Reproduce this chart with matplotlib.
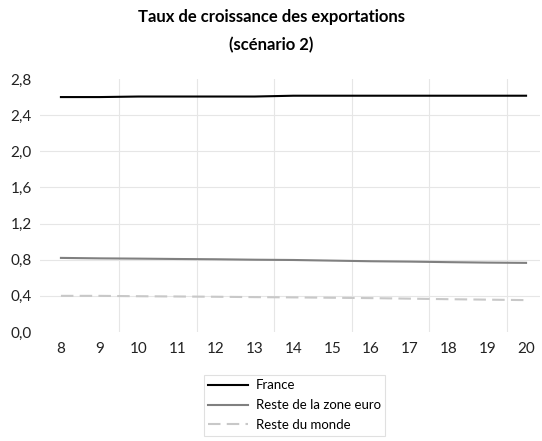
import matplotlib
matplotlib.use("Agg")
import matplotlib.pyplot as plt
import numpy as np

plt.rcParams['font.family'] = ['Lato', 'DejaVu Sans']

years = [8, 9, 10, 11, 12, 13, 14, 15, 16, 17, 18, 19, 20]
france = [2.600, 2.600, 2.606, 2.606, 2.606, 2.606, 2.615, 2.615, 2.615, 2.615, 2.615, 2.615, 2.615]
zone_euro = [0.820, 0.815, 0.812, 0.808, 0.805, 0.800, 0.797, 0.790, 0.783, 0.779, 0.773, 0.768, 0.765]
monde = [0.400, 0.400, 0.396, 0.393, 0.390, 0.386, 0.383, 0.379, 0.375, 0.369, 0.363, 0.358, 0.353]
yticks = [0.0, 0.4, 0.8, 1.2, 1.6, 2.0, 2.4, 2.8]
ytick_labels = ["0,0", "0,4", "0,8", "1,2", "1,6", "2,0", "2,4", "2,8"]
vgrid = [9.5, 11.5, 13.5, 15.5, 17.5, 19.5]

fig = plt.figure(figsize=(5.42, 4.41), dpi=100)
ax = fig.add_axes([40/542, 1-332/441, 500/542, (332-79)/441])

for y in yticks[1:-1]:
    ax.axhline(y, color='#e6e6e6', lw=0.8, zorder=0)
for x in vgrid:
    ax.axvline(x, color='#e6e6e6', lw=0.8, zorder=0)

ax.plot(years, france, color='#000000', lw=1.5, label='France')
ax.plot(years, zone_euro, color='#808080', lw=1.5, label='Reste de la zone euro')
ax.plot(years, monde, color='#c8c8c8', lw=1.5, dashes=(6, 3), label='Reste du monde')

ax.set_xlim(7.46, 20.36)
ax.set_ylim(0, 2.8)
ax.set_yticks(yticks)
ax.set_yticklabels(ytick_labels)
ax.set_xticks(years)
ax.set_xticklabels([str(y) for y in years])
ax.tick_params(axis='both', which='both', length=0, labelsize=11, colors='#222222')
ax.tick_params(axis='y', pad=6)
ax.tick_params(axis='x', pad=7)
for s in ax.spines.values():
    s.set_visible(False)

fig.text(0.5, 1-17/441, "Taux de croissance des exportations", ha='center', va='center',
         fontsize=12, fontweight='bold')
fig.text(0.5, 1-45/441, "(scénario 2)", ha='center', va='center',
         fontsize=12, fontweight='bold')

leg = ax.legend(loc='upper left', bbox_to_anchor=((197-40)/500, -(368-332)/253),
                frameon=True, fancybox=False, fontsize=9.5, handlelength=3,
                borderpad=0.35, labelspacing=0.6, handletextpad=0.6)
leg.get_frame().set_edgecolor('#d9d9d9')
leg.get_frame().set_linewidth(0.8)

fig.savefig("out.png", dpi=100)
